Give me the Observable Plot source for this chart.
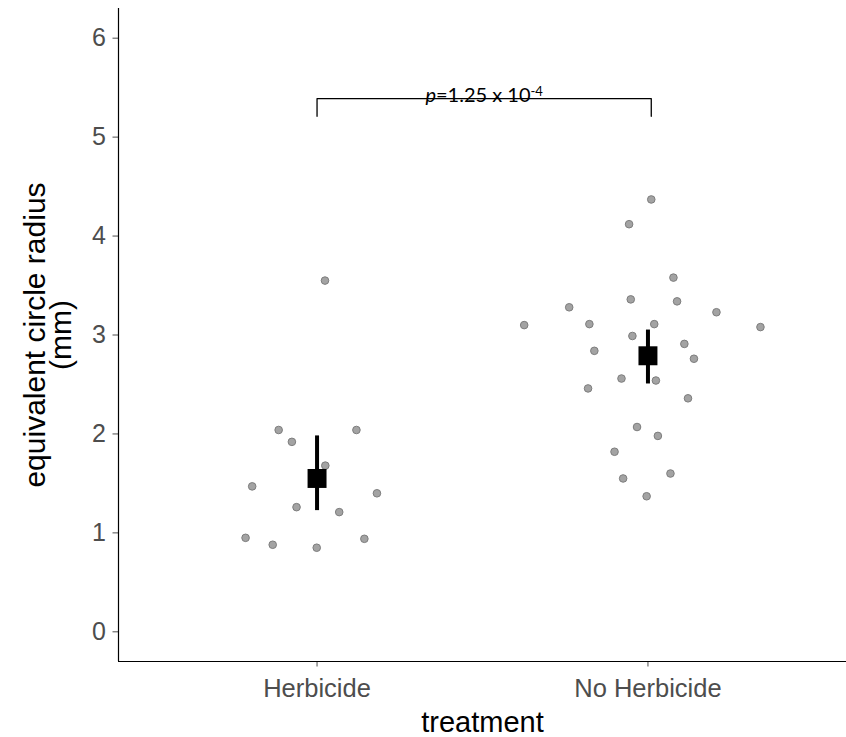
<!DOCTYPE html>
<html>
<head>
<meta charset="utf-8">
<script src="https://cdn.jsdelivr.net/npm/d3@7"></script>
<script src="https://cdn.jsdelivr.net/npm/@observablehq/plot@0.6"></script>
<style>
  html, body { margin: 0; padding: 0; background: #ffffff; }
</style>
</head>
<body>
<div id="chart"></div>
<script>
// ---- data ----
const groups = ["Herbicide", "No Herbicide"];
const yTicks = [0, 1, 2, 3, 4, 5, 6];

const herbicideY = [3.55, 2.04, 2.04, 1.92, 1.68, 1.47, 1.40, 1.26, 1.21, 0.95, 0.94, 0.88, 0.85];
const herbicideJitter = [0.024, -0.116, 0.119, -0.076, 0.025, -0.196, 0.181, -0.062, 0.067, -0.216, 0.143, -0.134, -0.001];

const noHerbicideY = [4.37, 4.12, 3.58, 3.36, 3.34, 3.28, 3.23, 3.10, 3.11, 3.11, 3.08, 2.99, 2.91, 2.84, 2.76, 2.56, 2.54, 2.46, 2.36, 2.07, 1.98, 1.82, 1.60, 1.55, 1.37];
const noHerbicideJitter = [0.010, -0.057, 0.077, -0.052, 0.088, -0.238, 0.207, -0.374, -0.177, 0.019, 0.340, -0.047, 0.110, -0.162, 0.139, -0.080, 0.024, -0.181, 0.121, -0.033, 0.030, -0.101, 0.068, -0.075, -0.004];

const means = [1.55, 2.79];
const ciLower = [1.225, 2.505];
const ciUpper = [1.98, 3.05];

const bracketX = [1, 2.01];
const bracketTop = 5.39;
const bracketBottom = 5.21;
const pItalic = "p";
const pMain = "=1.25 x 10";
const pExponent = "-4";

const xTitle = "treatment";
const yTitle = "equivalent circle radius\n(mm)";

// ---- tables built from the arrays ----
const points = [
  ...herbicideY.map((y, i) => ({pos: 1, jitter: herbicideJitter[i], y})),
  ...noHerbicideY.map((y, i) => ({pos: 2, jitter: noHerbicideJitter[i], y}))
];
const summary = groups.map((g, i) => ({pos: i + 1, mean: means[i], lo: ciLower[i], hi: ciUpper[i]}));
const bracket = [
  {x: bracketX[0], y: bracketBottom},
  {x: bracketX[0], y: bracketTop},
  {x: bracketX[1], y: bracketTop},
  {x: bracketX[1], y: bracketBottom}
];
const pFull = pItalic + pMain + pExponent;

const chart = Plot.plot({
  width: 846,
  height: 737,
  marginLeft: 118,
  marginRight: 0,
  marginTop: 8,
  marginBottom: 76,
  style: {fontFamily: "'Liberation Sans', Arial, sans-serif", background: "#ffffff", color: "#000"},
  x: {type: "linear", domain: [0.4, 2.6]},
  y: {domain: [-0.3, 6.3]},
  marks: [
    Plot.axisY({ticks: yTicks, tickFormat: d => String(d), tickSize: 5.5, tickPadding: 7, fontSize: 25, color: "#4d4d4d", label: null}),
    Plot.axisX({ticks: [1, 2], tickFormat: d => groups[d - 1], tickSize: 5.5, tickPadding: 12, fontSize: 25.5, color: "#4d4d4d", label: null}),
    Plot.ruleX([0.4], {stroke: "#000", strokeWidth: 1.2}),
    Plot.ruleY([-0.3], {stroke: "#000", strokeWidth: 1.2}),
    Plot.dot(points, {x: d => d.pos + d.jitter, y: "y", r: 3.8, fill: "#a3a3a3", stroke: "#7d7d7d", strokeWidth: 1}),
    Plot.ruleX(summary, {x: "pos", y1: "lo", y2: "hi", stroke: "#000", strokeWidth: 4}),
    Plot.dot(summary, {x: "pos", y: "mean", symbol: "square", r: 10.7, fill: "#000", stroke: null}),
    Plot.line(bracket, {x: "x", y: "y", stroke: "#000", strokeWidth: 1.3}),
    Plot.text([pFull], {x: (bracketX[0] + bracketX[1]) / 2, y: bracketTop, text: d => d, lineAnchor: "bottom", dy: 3, fontSize: 20, fontFamily: "Lato, 'Open Sans', sans-serif", fill: "#000"}),
    Plot.text([xTitle], {frameAnchor: "bottom", text: d => d, dy: 61, lineAnchor: "middle", textAnchor: "middle", fontSize: 29, fill: "#000"}),
    Plot.text([yTitle], {frameAnchor: "left", text: d => d, rotate: -90, dx: -68.5, lineAnchor: "middle", textAnchor: "middle", lineHeight: 0.85, fontSize: 30, fill: "#000"})
  ]
});

// rich text for the p-value label (italic p, superscript exponent)
d3.select(chart).selectAll("text").each(function() {
  if (this.textContent === pFull && this.childElementCount === 0) {
    const t = d3.select(this);
    t.text(null);
    t.append("tspan").attr("font-style", "italic").text(pItalic);
    t.append("tspan").text(pMain);
    t.append("tspan").attr("dy", "-0.45em").attr("font-size", "0.65em").text(pExponent);
  }
});

document.getElementById("chart").appendChild(chart);
</script>
</body>
</html>
